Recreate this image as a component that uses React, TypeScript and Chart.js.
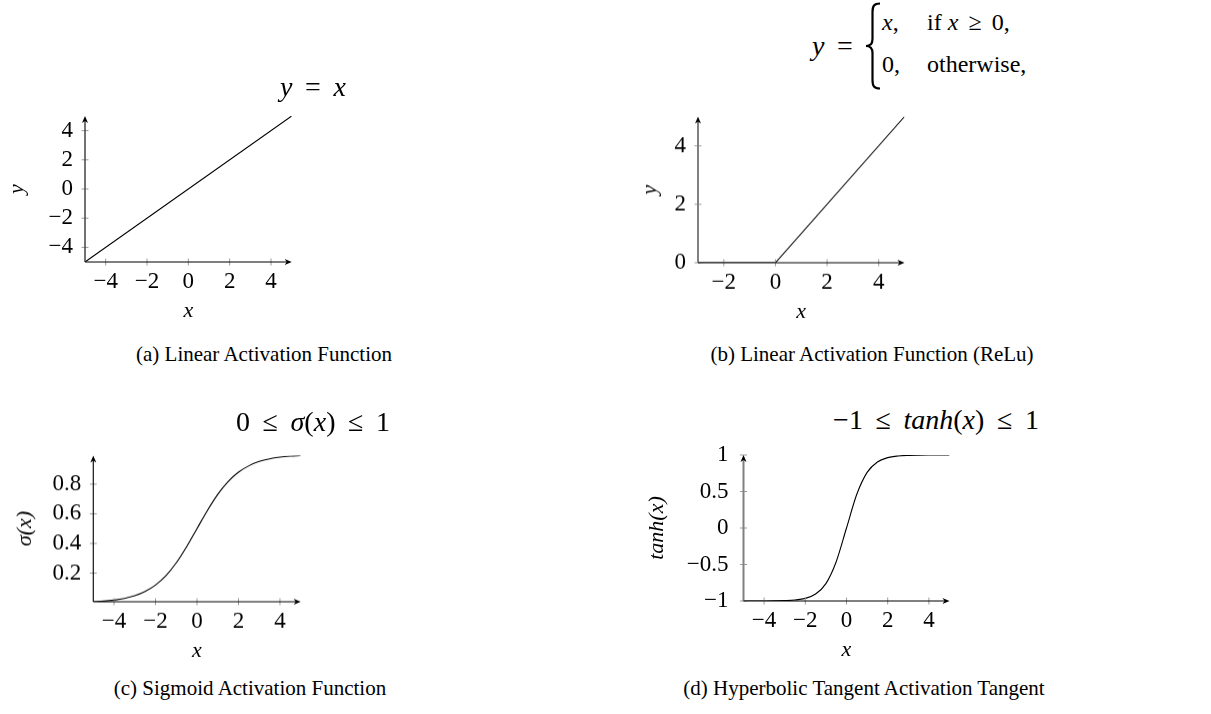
import React, { useEffect, useRef } from 'react';
import { Chart, registerables } from 'chart.js';

Chart.register(...registerables);

const SERIF = '"Liberation Serif", "Times New Roman", serif';

// (a) linear activation y = x
const LINEAR_X = [-5, 5];
const LINEAR_Y = [-5, 5];

// (b) ReLU: zero for negative inputs, identity afterwards
const RELU_X = [-3, 0, 5];
const RELU_Y = [0, 0, 5];

// (c) sigmoid samples
const SIGMOID_X = [-5, -4.5, -4, -3.5, -3, -2.5, -2, -1.5, -1, -0.5, 0, 0.5, 1, 1.5, 2, 2.5, 3, 3.5, 4, 4.5, 5];
const SIGMOID_Y = [0.0067, 0.011, 0.018, 0.029, 0.047, 0.076, 0.119, 0.182, 0.269, 0.378, 0.5, 0.622, 0.731, 0.818, 0.881, 0.924, 0.953, 0.971, 0.982, 0.989, 0.9933];

// (d) hyperbolic tangent samples
const TANH_X = [-5, -4.5, -4, -3.5, -3, -2.5, -2, -1.5, -1, -0.5, 0, 0.5, 1, 1.5, 2, 2.5, 3, 3.5, 4, 4.5, 5];
const TANH_Y = [-0.9999, -0.9998, -0.9993, -0.9982, -0.9951, -0.9866, -0.964, -0.905, -0.762, -0.462, 0, 0.462, 0.762, 0.905, 0.964, 0.9866, 0.9951, 0.9982, 0.9993, 0.9998, 0.9999];

// tick values
const TICKS_X_FULL = [-4, -2, 0, 2, 4];
const TICKS_X_RELU = [-2, 0, 2, 4];
const TICKS_Y_LINEAR = [-4, -2, 0, 2, 4];
const TICKS_Y_RELU = [0, 2, 4];
const TICKS_Y_SIGMOID = [0.2, 0.4, 0.6, 0.8];
const TICKS_Y_TANH = [-1, -0.5, 0, 0.5, 1];

const TICK_SIZE = 23;
const AXIS_TITLE_SIZE = 22;
const LH = 1.2;

type Panel = {
  id: string;
  xs: number[];
  ys: number[];
  smooth: boolean;
  xRange: [number, number];
  yRange: [number, number];
  xTicks: number[];
  yTicks: number[];
  yTitle: string;
  // chart area in page pixels
  area: { L: number; T: number; R: number; B: number };
  // canvas origin in page pixels
  x0: number;
  y0: number;
  x1: number;
  yLabelGap: number;
  yTitleX: number;
  yAxisColor: string;
  yAxisWidth: number;
};

const PANELS: Panel[] = [
  {
    id: 'linear', xs: LINEAR_X, ys: LINEAR_Y, smooth: false,
    xRange: [-5, 5], yRange: [-5, 5], xTicks: TICKS_X_FULL, yTicks: TICKS_Y_LINEAR, yTitle: 'y',
    area: { L: 85, T: 116, R: 291.7, B: 262 }, x0: 0, y0: 96, x1: 310,
    yLabelGap: 12, yTitleX: 17, yAxisColor: '#444', yAxisWidth: 1.5,
  },
  {
    id: 'relu', xs: RELU_X, ys: RELU_Y, smooth: false,
    xRange: [-3, 5], yRange: [0, 5], xTicks: TICKS_X_RELU, yTicks: TICKS_Y_RELU, yTitle: 'y',
    area: { L: 698, T: 116.5, R: 904.5, B: 262.7 }, x0: 620, y0: 96, x1: 925,
    yLabelGap: 12, yTitleX: 650, yAxisColor: '#808080', yAxisWidth: 2,
  },
  {
    id: 'sigmoid', xs: SIGMOID_X, ys: SIGMOID_Y, smooth: true,
    xRange: [-5, 5], yRange: [SIGMOID_Y[0], SIGMOID_Y[SIGMOID_Y.length - 1]],
    xTicks: TICKS_X_FULL, yTicks: TICKS_Y_SIGMOID, yTitle: 'σ(x)',
    area: { L: 93.3, T: 455.4, R: 300.7, B: 601.7 }, x0: 0, y0: 435, x1: 320,
    yLabelGap: 12, yTitleX: 25, yAxisColor: '#111', yAxisWidth: 1.2,
  },
  {
    id: 'tanh', xs: TANH_X, ys: TANH_Y, smooth: true,
    xRange: [-5, 5], yRange: [-1, 1], xTicks: TICKS_X_FULL, yTicks: TICKS_Y_TANH, yTitle: 'tanh(x)',
    area: { L: 743.5, T: 455, R: 949.5, B: 601 }, x0: 620, y0: 435, x1: 970,
    yLabelGap: 15, yTitleX: 657, yAxisColor: '#808080', yAxisWidth: 2,
  },
];

const fmt = (v: number) => (v < 0 ? '\u2212' + String(-v) : String(v));

// axis lines with arrow tips and small crossing tick marks
const axesPlugin = {
  id: 'pgfAxes',
  afterDatasetsDraw(chart: any, _args: any, opts: any) {
    const { ctx, chartArea } = chart;
    const { left, right, top, bottom } = chartArea;
    const xs = chart.scales.x;
    const ys = chart.scales.y;
    ctx.save();
    ctx.lineWidth = 1;
    ctx.strokeStyle = '#9c9c9c';
    for (const t of xs.ticks) {
      const px = xs.getPixelForValue(t.value);
      ctx.beginPath();
      ctx.moveTo(px, bottom - 3.5);
      ctx.lineTo(px, bottom + 3.5);
      ctx.stroke();
    }
    for (const t of ys.ticks) {
      const py = ys.getPixelForValue(t.value);
      ctx.beginPath();
      ctx.moveTo(left - 3.5, py);
      ctx.lineTo(left + 3.5, py);
      ctx.stroke();
    }
    // y axis
    ctx.strokeStyle = opts.yColor;
    ctx.lineWidth = opts.yWidth;
    ctx.beginPath();
    ctx.moveTo(left, bottom);
    ctx.lineTo(left, top + 4);
    ctx.stroke();
    ctx.fillStyle = '#000';
    ctx.beginPath();
    ctx.moveTo(left, top);
    ctx.lineTo(left - 3, top + 7);
    ctx.lineTo(left, top + 5);
    ctx.lineTo(left + 3, top + 7);
    ctx.closePath();
    ctx.fill();
    // x axis
    ctx.strokeStyle = '#000';
    ctx.lineWidth = 1.2;
    ctx.beginPath();
    ctx.moveTo(left, bottom);
    ctx.lineTo(right - 4, bottom);
    ctx.stroke();
    ctx.beginPath();
    ctx.moveTo(right, bottom);
    ctx.lineTo(right - 7, bottom - 3);
    ctx.lineTo(right - 5, bottom);
    ctx.lineTo(right - 7, bottom + 3);
    ctx.closePath();
    ctx.fill();
    ctx.restore();
  },
};

function PlotCanvas({ p }: { p: Panel }) {
  const ref = useRef<HTMLCanvasElement | null>(null);
  const y1 = p.area.B + 72;
  const width = p.x1 - p.x0;
  const height = y1 - p.y0;

  useEffect(() => {
    if (!ref.current) return;
    const tickLH = TICK_SIZE * LH;
    const titleLH = AXIS_TITLE_SIZE * LH;
    const chart = new Chart(ref.current, {
      type: 'line',
      data: {
        datasets: [
          {
            data: p.xs.map((x, i) => ({ x, y: p.ys[i] })),
            borderColor: '#000',
            borderWidth: 1.1,
            pointRadius: 0,
            fill: false,
            cubicInterpolationMode: p.smooth ? 'monotone' : 'default',
            tension: 0,
          },
        ],
      },
      plugins: [axesPlugin],
      options: {
        responsive: false,
        animation: false,
        events: [],
        layout: {
          padding: { left: 0, top: p.area.T - p.y0, right: p.x1 - p.area.R, bottom: 0 },
        },
        plugins: {
          legend: { display: false },
          tooltip: { enabled: false },
          pgfAxes: { yColor: p.yAxisColor, yWidth: p.yAxisWidth },
        } as any,
        scales: {
          x: {
            type: 'linear',
            position: 'bottom',
            min: p.xRange[0],
            max: p.xRange[1],
            bounds: 'data',
            grid: { display: false, drawTicks: false },
            border: { display: false },
            afterBuildTicks: (s: any) => {
              s.ticks = p.xTicks.map((v) => ({ value: v }));
            },
            afterFit: (s: any) => {
              s.height = y1 - p.area.B;
              s.paddingLeft = 0;
              s.paddingRight = 0;
              s.paddingTop = 0;
              s.paddingBottom = 0;
            },
            ticks: {
              padding: 20 - tickLH / 2,
              color: '#000',
              maxRotation: 0,
              autoSkip: false,
              font: { family: SERIF, size: TICK_SIZE },
              callback: (v: any) => fmt(Number(v)),
            },
            title: {
              display: true,
              text: 'x',
              color: '#000',
              font: { family: SERIF, size: AXIS_TITLE_SIZE, style: 'italic' },
              padding: { top: 0, bottom: y1 - (p.area.B + 49) - titleLH / 2 },
            },
          },
          y: {
            type: 'linear',
            position: 'left',
            min: p.yRange[0],
            max: p.yRange[1],
            bounds: 'data',
            grid: { display: false, drawTicks: false },
            border: { display: false },
            afterBuildTicks: (s: any) => {
              s.ticks = p.yTicks.map((v) => ({ value: v }));
            },
            afterFit: (s: any) => {
              s.width = p.area.L - p.x0;
              s.paddingLeft = 0;
              s.paddingRight = 0;
              s.paddingTop = 0;
              s.paddingBottom = 0;
            },
            ticks: {
              padding: p.yLabelGap,
              color: '#000',
              autoSkip: false,
              font: { family: SERIF, size: TICK_SIZE },
              callback: (v: any) => fmt(Number(v)),
            },
            title: {
              display: true,
              text: p.yTitle,
              color: '#000',
              font: { family: SERIF, size: AXIS_TITLE_SIZE, style: 'italic' },
              padding: { top: p.yTitleX - p.x0 - titleLH / 2, bottom: 0 },
            },
          },
        },
      } as any,
    });
    return () => chart.destroy();
  }, [p]);

  return (
    <canvas
      ref={ref}
      width={width}
      height={height}
      style={{ position: 'absolute', left: p.x0, top: p.y0, width, height }}
    />
  );
}

function Text({ x, y, size, align = 'center', children }: any) {
  return (
    <div
      style={{
        position: 'absolute',
        left: x,
        top: y,
        transform: align === 'center' ? 'translate(-50%, -50%)' : 'translate(0, -50%)',
        fontSize: size,
        lineHeight: 1,
        whiteSpace: 'nowrap',
        fontFamily: SERIF,
        color: '#000',
      }}
    >
      {children}
    </div>
  );
}

const I = ({ children }: any) => <span style={{ fontStyle: 'italic' }}>{children}</span>;
const Op = ({ children, gap = 0.45 }: any) => (
  <span style={{ margin: `0 ${gap}em` }}>{children}</span>
);

const TITLE_SIZE = 28;
const CASES_SIZE = 24;
const CAPTION_SIZE = 21;

export default function App() {
  return (
    <div
      style={{
        position: 'absolute',
        left: 0,
        top: 0,
        width: 1211,
        height: 714,
        background: '#fff',
        overflow: 'hidden',
      }}
    >
      {PANELS.map((p) => (
        <PlotCanvas key={p.id} p={p} />
      ))}

      <Text x={313} y={87} size={TITLE_SIZE}>
        <I>y</I>
        <Op>=</Op>
        <I>x</I>
      </Text>

      <Text x={812} y={46} size={TITLE_SIZE} align="left">
        <I>y</I>
        <Op>=</Op>
      </Text>
      <svg
        width={18}
        height={88}
        viewBox="0 0 18 88"
        style={{ position: 'absolute', left: 864, top: 2 }}
      >
        <path
          d="M16 1.5 C10 1.5 8.5 4 8.5 10 L8.5 37 C8.5 42 6.5 44 2 44 C6.5 44 8.5 46 8.5 51 L8.5 78 C8.5 84 10 86.5 16 86.5"
          fill="none"
          stroke="#000"
          strokeWidth={2.2}
        />
      </svg>
      <Text x={882} y={22} size={CASES_SIZE} align="left">
        <I>x</I>,
      </Text>
      <Text x={927} y={22} size={CASES_SIZE} align="left">
        if <I>x</I>
        <Op gap={0.42}>≥</Op>0,
      </Text>
      <Text x={882} y={64} size={CASES_SIZE} align="left">
        0,
      </Text>
      <Text x={927} y={64} size={CASES_SIZE} align="left">
        otherwise,
      </Text>

      <Text x={313} y={422} size={TITLE_SIZE}>
        0<Op>≤</Op>
        <I>σ</I>(<I>x</I>)<Op>≤</Op>1
      </Text>
      <Text x={936} y={420} size={TITLE_SIZE}>
        −1<Op>≤</Op>
        <I>tanh</I>(<I>x</I>)<Op>≤</Op>1
      </Text>

      <Text x={264} y={354} size={CAPTION_SIZE}>
        (a) Linear Activation Function
      </Text>
      <Text x={872} y={354} size={CAPTION_SIZE}>
        (b) Linear Activation Function (ReLu)
      </Text>
      <Text x={250} y={688} size={CAPTION_SIZE}>
        (c) Sigmoid Activation Function
      </Text>
      <Text x={864} y={688} size={CAPTION_SIZE}>
        (d) Hyperbolic Tangent Activation Tangent
      </Text>
    </div>
  );
}
